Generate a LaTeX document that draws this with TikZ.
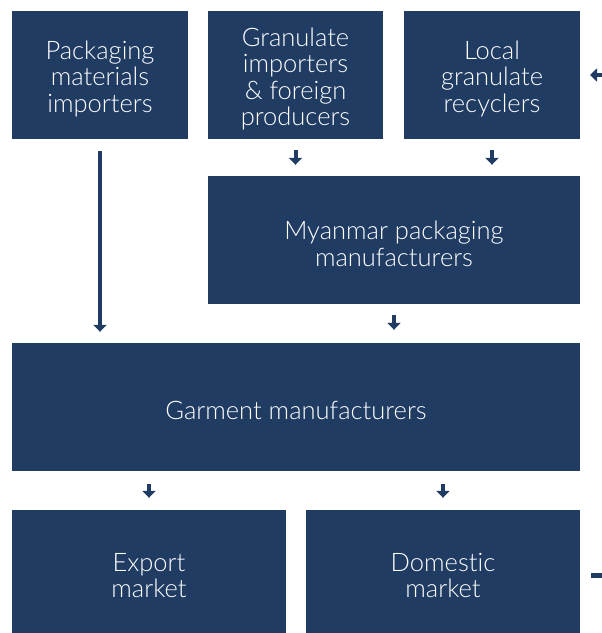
\documentclass[tikz,border=0pt]{standalone}
\usepackage{fontspec}
\setmainfont{Lato}[UprightFont={* Light}, Ligatures={NoCommon}]
\usetikzlibrary{arrows.meta}
\usetikzlibrary{calc}
\definecolor{navy}{HTML}{203C63}
\newcommand{\lift}{\rule{0pt}{26pt}}

\tikzset{
    box/.style={fill=navy, text=white, inner sep=0pt, align=center,
        font=\fontsize{25.5}{26.5}\selectfont},
    flow/.style={draw=navy, line width=4pt, -{Triangle[width=13pt,length=7pt]}}
}

\begin{document}
\begin{tikzpicture}[x=1pt,y=-1pt]
            \useasboundingbox (0,0) rectangle (602,633);
            % top row
            \node[box, minimum width=176pt, minimum height=128pt] (pack) at (100,75) {\lift Packaging\\materials\\importers};
            \node[box, minimum width=175pt, minimum height=128pt] (gran) at (295.5,75) {\lift Granulate\\importers\\\& foreign\\producers};
            \node[box, minimum width=176pt, minimum height=128pt] (recy) at (492,75) {\lift Local\\granulate\\recyclers};
            % middle
            \node[box, minimum width=372pt, minimum height=128pt] (myan) at (394,240) {\lift Myanmar packaging\\manufacturers};
            \node[box, minimum width=568pt, minimum height=128pt] (garm) at (296,407) {\lift Garment manufacturers};
            % markets
            \node[box, minimum width=274pt, minimum height=123pt] (expo) at (149,571.5) {\lift Export\\market};
            \node[box, minimum width=274pt, minimum height=123pt] (dome) at (443,571.5) {\lift Domestic\\market};
            % arrows
            \draw[flow, shorten <=12pt, shorten >=11pt] (pack.south) -- (pack.south |- garm.north);
            \draw[flow, shorten <=11pt, shorten >=11pt] (gran.south) -- (gran.south |- myan.north);
            \draw[flow, shorten <=11pt, shorten >=11pt] (recy.south) -- (recy.south |- myan.north);
            \draw[flow, shorten <=11pt, shorten >=13pt] (myan.south) -- (myan.south |- garm.north);
            \draw[flow, shorten <=13pt, shorten >=12pt] (garm.south -| expo.north) -- (expo.north);
            \draw[flow, shorten <=13pt, shorten >=12pt] (garm.south -| dome.north) -- (dome.north);
            % cut off at the right edge
            \coordinate (edgea) at (602,75);
            \coordinate (edgeb) at (602,575);
            \draw[flow] (edgea) -- ++(-12,0);
            \draw[navy, line width=5pt] (edgeb) -- ++(-11,0);
        \end{tikzpicture}
\end{document}
